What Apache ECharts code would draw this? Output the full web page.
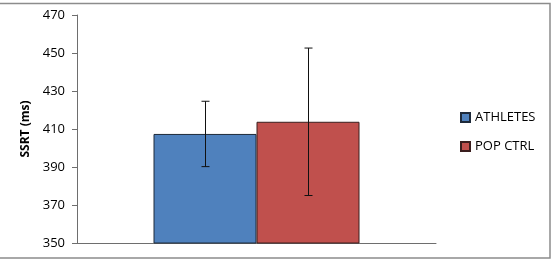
<!DOCTYPE html>
<html><head><meta charset="utf-8">
<script src="https://cdn.jsdelivr.net/npm/echarts@6/dist/echarts.min.js"></script>
<style>html,body{margin:0;padding:0;background:#fff}#c{width:555px;height:260px}</style>
</head><body><div id="c"></div>
<script>
var categories = ['SSRT'];
var seriesNames = ['ATHLETES', 'POP CTRL'];
var athletesMean = [407.4];
var athletesErr = [17.2];
var popCtrlMean = [413.8];
var popCtrlErr = [38.8];
var yTicks = [350, 370, 390, 410, 430, 450, 470];

var colors = ['#4F81BD', '#C0504D'];
var barW = 103;
var chart = echarts.init(document.getElementById('c'), null, {renderer: 'canvas'});

function errSeries(means, errs, sign) {
  return {
    type: 'custom',
    silent: true,
    z: 10,
    data: means.map(function (m, i) { return [i, m - errs[i], m + errs[i]]; }),
    renderItem: function (params, api) {
      var lo = api.coord([api.value(0), api.value(1)]);
      var hi = api.coord([api.value(0), api.value(2)]);
      var x = Math.round(lo[0] + sign * barW / 2) + 0.5;
      var cap = 4;
      var st = {stroke: '#111', lineWidth: 1};
      return {type: 'group', children: [
        {type: 'line', shape: {x1: x, y1: hi[1], x2: x, y2: lo[1]}, style: st},
        {type: 'line', shape: {x1: x - cap, y1: hi[1], x2: x + cap, y2: hi[1]}, style: st},
        {type: 'line', shape: {x1: x - cap, y1: lo[1], x2: x + cap, y2: lo[1]}, style: st}
      ]};
    }
  };
}

chart.setOption({
  animation: false,
  textStyle: {fontFamily: 'Open Sans'},
  graphic: [{type: 'rect', shape: {x: -1, y: 3.5, width: 551, height: 254.5},
    style: {fill: 'none', stroke: '#8c8c8c', lineWidth: 1.5}, silent: true}],
  grid: {left: 77, top: 15, right: 119, bottom: 17},
  legend: {
    orient: 'vertical', left: 460, top: 111, itemGap: 16, padding: 0,
    itemWidth: 9, itemHeight: 9, icon: 'rect',
    textStyle: {fontSize: 13, color: '#000', fontFamily: 'Open Sans'},
    data: seriesNames
  },
  xAxis: {
    type: 'category', data: categories,
    axisLine: {lineStyle: {color: '#6e6e6e', width: 1}},
    axisTick: {show: false}, axisLabel: {show: false}
  },
  yAxis: {
    type: 'value', min: yTicks[0], max: yTicks[yTicks.length - 1], interval: 20,
    name: 'SSRT (ms)', nameLocation: 'middle', nameGap: 42, nameRotate: 90,
    nameTextStyle: {fontSize: 12, fontWeight: 'bold', color: '#000', fontFamily: 'Open Sans'},
    axisLine: {show: true, lineStyle: {color: '#6e6e6e'}},
    axisTick: {show: true, length: 5, lineStyle: {color: '#6e6e6e'}},
    axisLabel: {fontSize: 13, color: '#000', margin: 12, fontFamily: 'Open Sans'},
    splitLine: {show: false}
  },
  series: [
    {name: seriesNames[0], type: 'bar', data: athletesMean, barWidth: barW, barGap: '0%',
     itemStyle: {color: colors[0], borderColor: '#1e2a3a', borderWidth: 1}},
    {name: seriesNames[1], type: 'bar', data: popCtrlMean, barWidth: barW, barGap: '0%',
     itemStyle: {color: colors[1], borderColor: '#3a1e1e', borderWidth: 1}},
    errSeries(athletesMean, athletesErr, -1),
    errSeries(popCtrlMean, popCtrlErr, 1)
  ]
});
</script></body></html>
